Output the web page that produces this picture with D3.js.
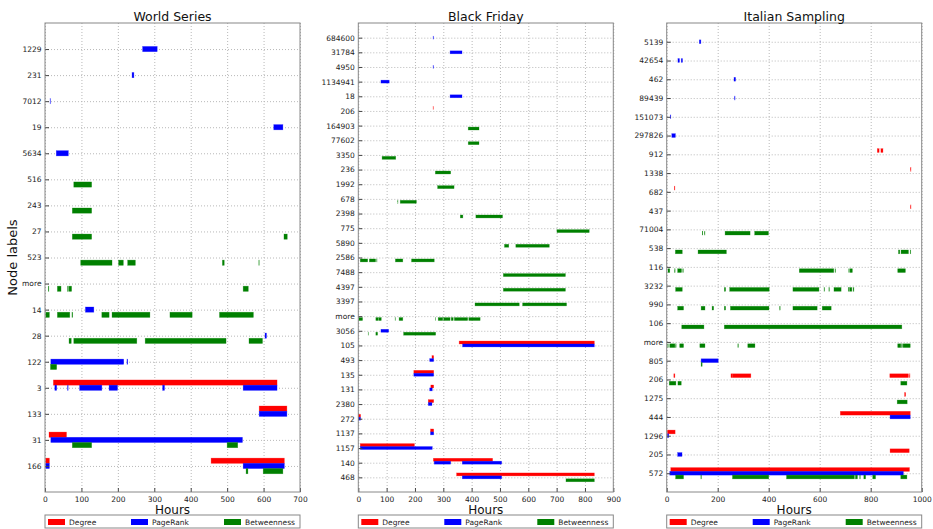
<!DOCTYPE html>
<html>
<head>
<meta charset="utf-8">
<script src="https://cdn.jsdelivr.net/npm/d3@7"></script>
<style>
  html, body { margin: 0; padding: 0; background: #fff; }
  svg { display: block; font-family: "DejaVu Sans", sans-serif; }
</style>
</head>
<body>
<svg id="chart" width="933" height="529"></svg>
<script>
// ---- World Series ----
const wsLabels = ["1229","231","7012","19","5634","516","243","27","523","more","14","28","122","3","133","31","166"];
const wsDegree = [["3",23,637],["133",588,664],["31",11,59],["166",2,12],["166",456,657]];
const wsPageRank = [["1229",268,308],["231",239,244],["7012",14,15],["19",628,653],["5634",31,64],
  ["14",111,134],["28",604,608],["122",16,216],["122",225,227],["3",27,32],["3",62,63.5],["3",95,156],
  ["3",176,199],["3",323,328],["3",544,637],["133",588,664],["31",16,542],["166",2,12],["166",544,657]];
const wsBetweenness = [["516",79,128],["243",75,128],["27",75,128],["27",656,665],
  ["523",98,184],["523",202,215],["523",227,248],["523",487,492],["523",587,588],
  ["more",9,10.5],["more",34,44],["more",62,64],["more",66,73],["more",544,558],
  ["14",2,12],["14",34,68],["14",74,76],["14",156,176],["14",184,288],["14",343,404],["14",479,572],
  ["28",66,72],["28",79,252],["28",275,497],["28",560,597],["122",15,32],
  ["31",75,128],["31",500,529],["166",552,557],["166",599,653]];
const wsTicks = d3.range(0, 701, 100);

// ---- Black Friday ----
const bfLabels = ["684600","31784","4950","1134941","18","206","164903","77602","3350","236","1992","678",
  "2398","775","5890","2586","7488","4397","3397","more","3056","105","493","135","131","2380","272",
  "1137","1157","140","468"];
const bfDegree = [["206",264,265],["105",356,833],["493",260,266],["135",196,266],["131",256,266],
  ["2380",247,266],["272",0,8],["1137",255,266],["1157",7,198],["140",265,474],["468",347,833]];
const bfPageRank = [["684600",264,265.5],["31784",324,366],["4950",264,265.5],["1134941",80,109],
  ["18",324,366],["3056",80,107],["105",368,833],["493",252,266],["135",196,266],["131",252,261],
  ["2380",247,260],["272",0,8],["1137",255,266],["1157",7,261],["140",268,326],["140",367,506],
  ["468",367,506]];
const bfBetweenness = [["164903",388,426],["77602",388,426],["3350",84,132],["236",272,326],
  ["1992",280,338],["678",139,140],["678",148,205],["2398",360,369],["2398",415,509],["775",701,815],
  ["5890",516,531],["5890",556,674],["2586",7,33],["2586",39,61],["2586",65,66],["2586",131,157],
  ["2586",188,268],["7488",512,731],["4397",512,731],["3397",412,568],["3397",580,735],
  ["more",2,15],["more",62,70],["more",72,81],["more",130,131],["more",144,157],["more",272,273],
  ["more",282,298],["more",301,324],["more",328,335],["more",339,386],["more",390,430],
  ["3056",35,36],["3056",62,68],["3056",160,273],["468",733,833]];
const bfTicks = d3.range(0, 901, 100);

// ---- Italian Sampling ----
const isLabels = ["5139","42654","462","89439","151073","297826","912","1338","682","437","71004","538",
  "116","3232","990","106","more","805","206","1275","444","1296","205","572"];
const isDegree = [["912",826,833],["912",840,848],["1338",956,958],["682",30,32],["437",956,958],
  ["206",28,32],["206",252,256],["206",257,330],["206",875,948],["206",952,954],["1275",933,937],
  ["444",681,955],["1296",3,33],["205",876,951],["572",16,952]];
const isPageRank = [["5139",128,134],["42654",44,50],["42654",57,62],["462",264,270],["89439",266,268],
  ["151073",14,16],["297826",20,34],["805",135,202],["444",876,955],["1296",3,8],["205",43,60],
  ["572",12,928]];
const isBetweenness = [["71004",140,141],["71004",148,150],["71004",229,327],["71004",345,399],
  ["538",34,61],["538",123,234],["538",909,914],["538",919,948],["538",955,957],
  ["116",5,12],["116",31,33],["116",43,58],["116",63,65],["116",520,655],["116",660,662],
  ["116",714,716],["116",719,728],["116",906,936],
  ["3232",35,61],["3232",226,231],["3232",247,402],["3232",495,597],["3232",617,619],["3232",636,638],
  ["3232",656,684],["3232",712,714],["3232",717,726],["3232",731,734],
  ["990",43,66],["990",135,150],["990",178,184],["990",226,231],["990",250,401],["990",443,445],
  ["990",495,590],["990",610,645],
  ["106",59,146],["106",226,922],
  ["more",4,6],["more",12,32],["more",35,37],["more",51,66],["more",130,150],["more",279,281],
  ["more",318,346],["more",906,918],["more",921,924],["more",927,955],
  ["805",135,139],["206",10,36],["206",44,57],["206",918,942],["1275",904,943],
  ["572",35,66],["572",134,136],["572",258,400],["572",470,736],["572",740,748],["572",757,759],
  ["572",773,780],["572",808,819],["572",918,942]];
const isTicks = d3.range(0, 1001, 200);

const seriesNames = ["Degree", "PageRank", "Betweenness"];
const seriesColors = ["#ff0000", "#0000ff", "#008000"];
const seriesOffsets = [-0.2, 0, 0.2];   // row offset for each metric, in row units
const barHeight = 0.2;

const panels = [
  { title: "World Series", labels: wsLabels, series: [wsDegree, wsPageRank, wsBetweenness], xMax: 700, ticks: wsTicks, left: 45 },
  { title: "Black Friday", labels: bfLabels, series: [bfDegree, bfPageRank, bfBetweenness], xMax: 900, ticks: bfTicks, left: 358.3 },
  { title: "Italian Sampling", labels: isLabels, series: [isDegree, isPageRank, isBetweenness], xMax: 1000, ticks: isTicks, left: 666.7 }
];

const plotW = 255, plotTop = 23, plotBottom = 492;
const svg = d3.select("#chart");

panels.forEach(p => {
  const n = p.labels.length;
  const x = d3.scaleLinear().domain([0, p.xMax]).range([p.left, p.left + plotW]);
  const y = d3.scaleLinear().domain([0, n + 1]).range([plotTop, plotBottom]);
  const rowIndex = new Map(p.labels.map((l, i) => [l, i + 1]));
  const g = svg.append("g");

  // dotted grid
  g.append("g").attr("transform", `translate(0,${plotBottom})`)
    .call(d3.axisBottom(x).tickValues(p.ticks).tickSize(-(plotBottom - plotTop)).tickFormat(""))
    .call(a => a.select(".domain").remove())
    .call(a => a.selectAll("line").attr("stroke", "#b8b8b8").attr("stroke-dasharray", "1,2"));
  g.append("g").attr("transform", `translate(${p.left},0)`)
    .call(d3.axisLeft(y).tickValues(d3.range(1, n + 1)).tickSize(-plotW).tickFormat(""))
    .call(a => a.select(".domain").remove())
    .call(a => a.selectAll("line").attr("stroke", "#b8b8b8").attr("stroke-dasharray", "1,2"));

  // bars, with a thin same-colour edge
  p.series.forEach((segs, si) => {
    g.append("g").selectAll("rect").data(segs).join("rect")
      .attr("x", d => x(d[1]))
      .attr("width", d => Math.max(0.3, x(d[2]) - x(d[1])))
      .attr("y", d => y(rowIndex.get(d[0]) + seriesOffsets[si] - barHeight / 2))
      .attr("height", y(barHeight) - y(0))
      .attr("fill", seriesColors[si])
      .attr("stroke", seriesColors[si])
      .attr("stroke-width", 0.6)
      .attr("stroke-opacity", 0.45);
  });

  // axes with inward ticks
  const xa = g.append("g").attr("transform", `translate(0,${plotBottom})`)
    .call(d3.axisBottom(x).tickValues(p.ticks).tickFormat(d3.format("d"))
      .tickSizeInner(-4).tickSizeOuter(0).tickPadding(5));
  const ya = g.append("g").attr("transform", `translate(${p.left},0)`)
    .call(d3.axisLeft(y).tickValues(d3.range(1, n + 1)).tickFormat(i => p.labels[i - 1])
      .tickSizeInner(-4).tickSizeOuter(0).tickPadding(3.5));
  [xa, ya].forEach(a => {
    a.select(".domain").remove();
    a.selectAll("line").attr("stroke", "#444");
    a.selectAll("text").attr("font-size", "7.5px").attr("fill", "#222")
      .attr("font-family", "DejaVu Sans, sans-serif");
  });

  // frame
  g.append("rect").attr("x", p.left).attr("y", plotTop).attr("width", plotW).attr("height", plotBottom - plotTop)
    .attr("fill", "none").attr("stroke", "#888").attr("stroke-width", 1);

  // title and x label
  g.append("text").attr("x", p.left + plotW / 2).attr("y", 20.5).attr("text-anchor", "middle")
    .attr("font-size", "12.5px").attr("fill", "#111").text(p.title);
  g.append("text").attr("x", p.left + plotW / 2).attr("y", 514).attr("text-anchor", "middle")
    .attr("font-size", "12px").attr("fill", "#111").text("Hours");

  // legend below each panel
  const lg = g.append("g");
  lg.append("rect").attr("x", p.left).attr("y", 515).attr("width", plotW).attr("height", 13)
    .attr("fill", "#fff").attr("stroke", "#888");
  const entryX = [3, 86, 179];
  seriesNames.forEach((name, i) => {
    lg.append("rect").attr("x", p.left + entryX[i]).attr("y", 519).attr("width", 17).attr("height", 6)
      .attr("fill", seriesColors[i]);
    lg.append("text").attr("x", p.left + entryX[i] + 21).attr("y", 524.8)
      .attr("font-size", "7.5px").attr("fill", "#222").text(name);
  });
});

// shared y label
svg.append("text").attr("transform", "translate(17,257.5) rotate(-90)").attr("text-anchor", "middle")
  .attr("font-size", "13px").attr("fill", "#111").text("Node labels");
</script>
</body>
</html>
